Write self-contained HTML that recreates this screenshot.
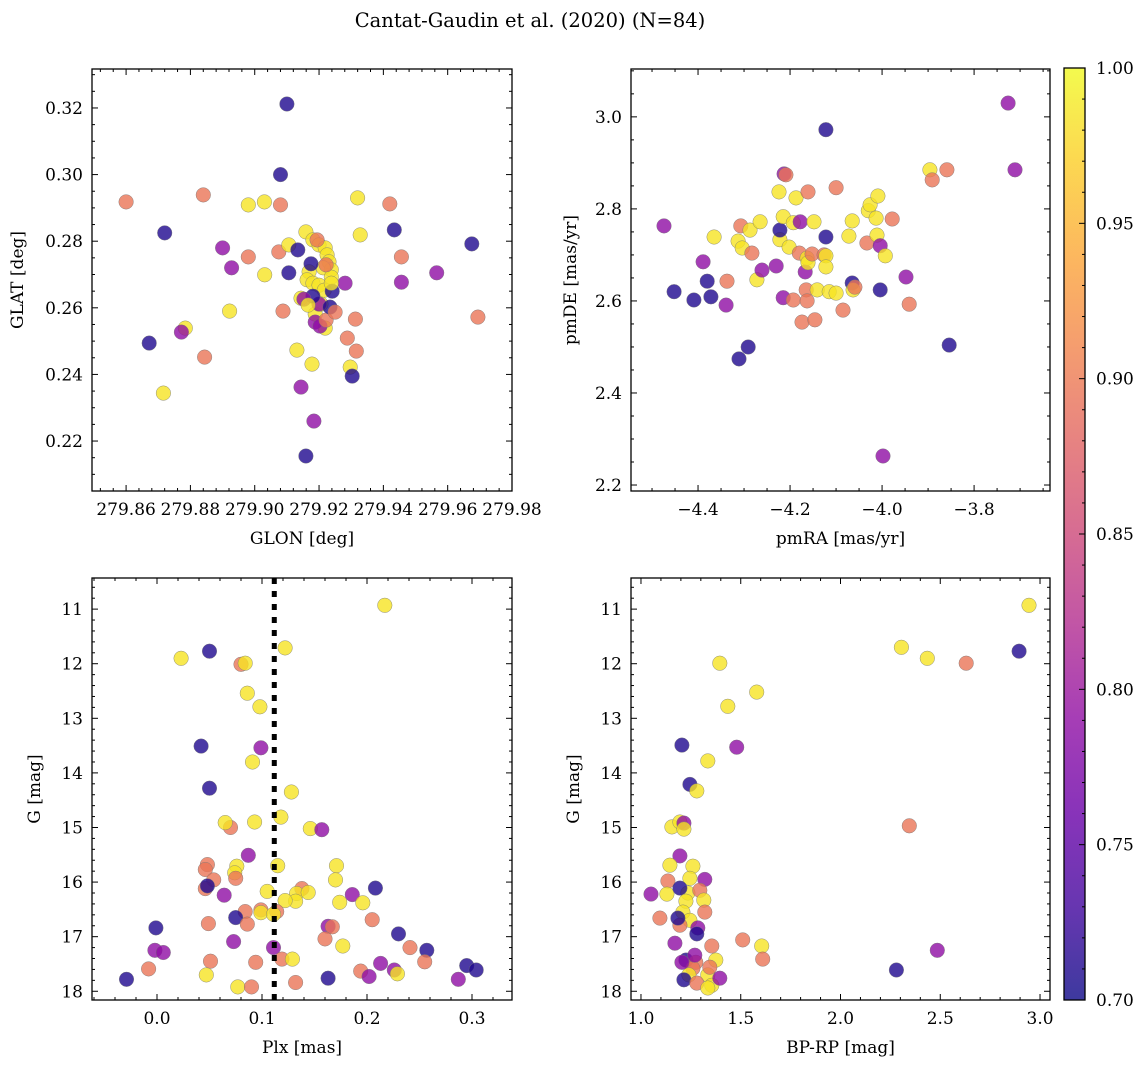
<!DOCTYPE html>
<html><head><meta charset="utf-8">
<style>
html,body{margin:0;padding:0;background:#fff;}
svg{display:block;font-family:"DejaVu Serif","Liberation Serif",serif;}
</style></head>
<body>
<svg id="fig" width="1148" height="1068" viewBox="0 0 1148 1068">
<defs>
<linearGradient id="plasma" x1="0" y1="1" x2="0" y2="0">
<stop offset="0" stop-color="#0d0887"/><stop offset="0.1" stop-color="#41049d"/><stop offset="0.2" stop-color="#6a00a8"/><stop offset="0.3" stop-color="#8f0da4"/><stop offset="0.4" stop-color="#b12a90"/><stop offset="0.5" stop-color="#cc4778"/><stop offset="0.6" stop-color="#e16462"/><stop offset="0.7" stop-color="#f2844b"/><stop offset="0.8" stop-color="#fca636"/><stop offset="0.9" stop-color="#fcce25"/><stop offset="1" stop-color="#f0f921"/>
</linearGradient>
</defs>
<text x="530" y="27" font-size="19.5" text-anchor="middle">Cantat-Gaudin et al. (2020) (N=84)</text>
</svg>
<script>
// ---------- data ----------
const p1_glon=[279.910,279.908,279.860,279.884,279.898,279.903,279.908,279.932,279.942,279.872,279.890,279.898,279.9075,279.9106,279.9134,279.9031,279.8928,279.9106,279.8922,279.9088,279.9328,279.9434,279.9456,279.9566,279.9456,279.9675,279.9694,279.9281,279.9313,279.8784,279.8772,279.8672,279.8844,279.8716,279.9131,279.9144,279.9178,279.9297,279.9288,279.9316,279.9303,279.9184,279.9159,279.9159,279.9181,279.9200,279.9219,279.9225,279.9231,279.9238,279.9213,279.9169,279.9163,279.9181,279.9200,279.9216,279.9144,279.9188,279.9206,279.9238,279.9219,279.9200,279.9188,279.9203,279.9222,279.9241,279.9234,279.9181,279.9175,279.9194,279.9222,279.9153,279.9166,279.925,279.9238];
const p1_glat=[0.3212,0.3000,0.2918,0.2939,0.2909,0.2918,0.2909,0.2930,0.2912,0.2825,0.2780,0.2753,0.2768,0.2789,0.2774,0.2699,0.2720,0.2705,0.2590,0.2590,0.2819,0.2834,0.2753,0.2705,0.2677,0.2792,0.2572,0.2674,0.2566,0.2539,0.2527,0.2494,0.2452,0.2344,0.2473,0.2362,0.2431,0.2422,0.2509,0.2470,0.2395,0.2260,0.2155,0.2828,0.2804,0.2789,0.2780,0.2759,0.2738,0.2714,0.2720,0.2708,0.2684,0.2674,0.2668,0.2653,0.2629,0.2581,0.2611,0.2692,0.2539,0.2611,0.2557,0.2545,0.2563,0.2650,0.2602,0.2635,0.2732,0.2804,0.2729,0.2626,0.2608,0.2587,0.2674];
const p1_prob=[0.71,0.71,0.895,0.895,0.985,0.985,0.895,0.985,0.895,0.71,0.79,0.895,0.895,0.985,0.71,0.985,0.79,0.71,0.985,0.895,0.985,0.71,0.895,0.79,0.79,0.71,0.895,0.79,0.895,0.985,0.79,0.71,0.895,0.985,0.985,0.79,0.985,0.985,0.895,0.895,0.71,0.79,0.71,0.985,0.985,0.985,0.985,0.985,0.985,0.985,0.985,0.985,0.985,0.985,0.985,0.985,0.985,0.985,0.985,0.985,0.985,0.79,0.79,0.79,0.895,0.71,0.71,0.71,0.71,0.895,0.895,0.79,0.985,0.895,0.985];

const p2_pmra=[-4.474,-4.452,-4.409,-4.389,-4.380,-4.372,-4.365,-4.339,-4.337,-4.311,-4.307,-4.313,-4.304,-4.291,-4.287,-4.283,-4.272,-4.265,-4.261,-4.230,-4.224,-4.222,-4.222,-4.215,-4.213,-4.209,-4.215,-4.202,-4.193,-4.193,-4.187,-4.180,-4.178,-4.174,-4.167,-4.165,-4.163,-4.161,-4.163,-4.161,-4.152,-4.146,-4.148,-4.141,-4.126,-4.122,-4.122,-4.122,-4.122,-4.115,-4.100,-4.100,-4.085,-4.072,-4.065,-4.065,-4.063,-4.059,-4.033,-4.030,-4.026,-4.009,-4.013,-4.011,-4.004,-3.998,-4.004,-3.993,-3.978,-3.941,-3.948,-3.896,-3.891,-3.859,-3.854,-3.726,-3.711];
const p2_pmde=[2.763,2.620,2.602,2.685,2.643,2.609,2.739,2.591,2.643,2.474,2.763,2.730,2.715,2.500,2.754,2.704,2.646,2.772,2.667,2.676,2.837,2.733,2.754,2.607,2.876,2.874,2.783,2.717,2.602,2.770,2.824,2.704,2.772,2.554,2.663,2.624,2.600,2.837,2.693,2.683,2.702,2.559,2.772,2.624,2.700,2.698,2.674,2.972,2.739,2.620,2.846,2.617,2.580,2.741,2.639,2.774,2.624,2.630,2.726,2.796,2.809,2.828,2.780,2.743,2.720,2.263,2.624,2.698,2.778,2.593,2.652,2.885,2.863,2.885,2.504,3.030,2.885];
const p2_prob=[0.79,0.71,0.71,0.79,0.71,0.71,0.985,0.79,0.895,0.71,0.895,0.985,0.985,0.71,0.985,0.895,0.985,0.985,0.79,0.79,0.985,0.985,0.71,0.79,0.79,0.895,0.985,0.985,0.895,0.985,0.985,0.895,0.79,0.895,0.79,0.895,0.895,0.895,0.985,0.985,0.895,0.895,0.985,0.985,0.895,0.985,0.985,0.71,0.71,0.985,0.895,0.985,0.895,0.985,0.71,0.985,0.985,0.895,0.895,0.985,0.985,0.985,0.985,0.985,0.79,0.79,0.71,0.985,0.895,0.895,0.79,0.985,0.895,0.895,0.71,0.79,0.79];

const p3_plx=[0.217,0.050,0.023,0.080,0.084,0.122,0.086,0.098,0.042,0.099,0.091,0.050,0.128,0.070,0.065,0.093,0.118,0.146,0.157,0.087,0.048,0.046,0.076,0.074,0.075,0.115,0.171,0.170,0.054,0.046,0.048,0.064,0.105,0.138,0.133,0.144,0.132,0.122,0.208,0.186,0.174,0.196,0.084,0.099,0.099,0.114,0.111,0.075,0.086,0.049,-0.001,0.163,0.167,0.205,0.230,0.073,0.160,0.177,0.241,0.257,-0.002,0.006,0.111,0.051,0.094,0.119,0.129,0.213,0.255,0.295,0.304,-0.008,0.047,0.194,0.226,0.229,0.202,-0.029,0.163,0.287,0.077,0.090,0.132];
const p3_g=[10.93,11.77,11.90,12.01,11.99,11.71,12.54,12.79,13.51,13.54,13.80,14.28,14.35,15.00,14.91,14.90,14.81,15.02,15.04,15.51,15.68,15.77,15.71,15.83,15.93,15.70,15.70,15.96,15.96,16.12,16.07,16.24,16.17,16.12,16.21,16.19,16.35,16.34,16.11,16.23,16.37,16.38,16.54,16.51,16.56,16.54,16.59,16.65,16.77,16.76,16.84,16.81,16.82,16.69,16.95,17.09,17.04,17.17,17.20,17.25,17.25,17.29,17.20,17.45,17.47,17.41,17.41,17.49,17.46,17.53,17.61,17.59,17.70,17.63,17.61,17.68,17.73,17.78,17.76,17.78,17.92,17.92,17.84];
const p3_prob=[0.985,0.71,0.985,0.895,0.985,0.985,0.985,0.985,0.71,0.79,0.985,0.71,0.985,0.895,0.985,0.985,0.985,0.985,0.79,0.79,0.895,0.895,0.985,0.985,0.895,0.985,0.985,0.985,0.895,0.895,0.71,0.79,0.985,0.895,0.985,0.985,0.985,0.985,0.71,0.79,0.985,0.985,0.895,0.895,0.985,0.895,0.985,0.71,0.895,0.895,0.71,0.79,0.895,0.895,0.71,0.79,0.895,0.985,0.895,0.71,0.79,0.79,0.79,0.895,0.895,0.895,0.985,0.79,0.895,0.71,0.71,0.895,0.985,0.895,0.79,0.985,0.79,0.71,0.71,0.79,0.985,0.895,0.895];

const p4_bprp=[2.945,2.895,2.305,2.435,2.630,1.395,1.580,1.435,1.205,1.480,1.335,1.245,1.280,1.155,1.195,1.215,1.215,2.345,1.195,1.145,1.260,1.320,1.245,1.135,1.050,1.130,1.235,1.295,1.315,1.195,1.225,1.210,1.320,1.245,1.195,1.285,1.185,1.280,1.170,1.355,1.510,1.605,1.610,1.375,1.225,1.275,1.260,1.335,1.345,1.240,1.215,1.280,1.355,1.395,1.335,2.280,2.485,1.205,1.270,1.095];
const p4_g=[10.93,11.77,11.70,11.90,11.99,11.99,12.52,12.78,13.49,13.53,13.78,14.21,14.33,14.99,14.90,14.92,15.03,14.97,15.52,15.69,15.71,15.95,15.93,15.98,16.22,16.22,16.20,16.15,16.33,16.11,16.35,16.55,16.55,16.70,16.79,16.84,16.66,16.95,17.12,17.17,17.06,17.17,17.41,17.43,17.43,17.47,17.58,17.70,17.56,17.70,17.79,17.85,17.89,17.76,17.94,17.61,17.25,17.47,17.34,16.66];
const p4_prob=[0.985,0.71,0.985,0.985,0.895,0.985,0.985,0.985,0.71,0.79,0.985,0.71,0.985,0.985,0.985,0.79,0.985,0.895,0.79,0.985,0.985,0.79,0.985,0.895,0.79,0.985,0.985,0.895,0.985,0.71,0.985,0.985,0.895,0.985,0.895,0.79,0.71,0.71,0.79,0.895,0.895,0.985,0.895,0.985,0.71,0.895,0.895,0.985,0.895,0.985,0.71,0.895,0.985,0.79,0.985,0.71,0.79,0.79,0.79,0.895];

const p1_xticks=[279.86,279.88,279.90,279.92,279.94,279.96,279.98];
const p1_yticks=[0.22,0.24,0.26,0.28,0.30,0.32];
const p2_xticks=[-4.4,-4.2,-4.0,-3.8];
const p2_yticks=[2.2,2.4,2.6,2.8,3.0];
const p3_xticks=[0.0,0.1,0.2,0.3];
const g_ticks=[11,12,13,14,15,16,17,18];
const p4_xticks=[1.0,1.5,2.0,2.5,3.0];
const cb_ticks=[0.70,0.75,0.80,0.85,0.90,0.95,1.00];
const plx_cut=0.1117;

// ---------- helpers ----------
const NS="http://www.w3.org/2000/svg";
const svg=document.getElementById('fig');
function mk(tag,attrs,parent){const e=document.createElementNS(NS,tag);for(const k in attrs)e.setAttribute(k,attrs[k]);(parent||svg).appendChild(e);return e;}
const stops=[[13,8,135],[65,4,157],[106,0,168],[143,13,164],[177,42,144],[204,71,120],[225,100,98],[242,132,75],[252,166,54],[252,206,37],[240,249,33]];
function plasma(v){let t=(v-0.7)/0.3;t=Math.max(0,Math.min(1,t))*10;const i=Math.min(9,Math.floor(t)),f=t-i;const a=stops[i],b=stops[i+1];return 'rgb('+a.map((c,k)=>Math.round(c+(b[k]-c)*f)).join(',')+')';}
function fmt(v,d){return (v<0?'\u2212':'')+Math.abs(v).toFixed(d);}
const FS=17;

function panel(o){
  const g=mk('g',{});
  
  
  const sx=v=>o.x0+(v-o.xd[0])/(o.xd[1]-o.xd[0])*(o.x1-o.x0);
  const sy=v=>o.y1-(v-o.yd[0])/(o.yd[1]-o.yd[0])*(o.y1-o.y0);
  const pg=mk('g',{},g);
  
  
  for(let i=0;i<o.xs.length;i++){
    const c=mk('circle',{cx:sx(o.xs[i]).toFixed(1),cy:sy(o.ys[i]).toFixed(1),r:7.3,fill:plasma(o.cs[i]),'fill-opacity':0.8,stroke:'#777','stroke-width':0.5,'stroke-opacity':0.8},pg);
    
    
  }
  if(o.vline!==undefined){
    const l=mk('line',{x1:sx(o.vline),x2:sx(o.vline),y1:o.y0,y2:o.y1,stroke:'#000','stroke-width':5,'stroke-dasharray':'6,7'},g);
    
    
  }
  const fr=mk('rect',{x:o.x0,y:o.y0,width:o.x1-o.x0,height:o.y1-o.y0,fill:'none',stroke:'#000','stroke-width':1.3},g);
  
  
  const tg=mk('g',{stroke:'#000','stroke-width':1},g);
  const xmin=Math.ceil(o.xd[0]/o.xm-1e-6),xmax=Math.floor(o.xd[1]/o.xm+1e-6);
  for(let k=xmin;k<=xmax;k++){const v=k*o.xm,x=sx(v);const maj=o.xt.some(t=>Math.abs(t-v)<o.xm/3);const L=maj?6:3;
    mk('line',{x1:x,x2:x,y1:o.y1,y2:o.y1-L},tg);mk('line',{x1:x,x2:x,y1:o.y0,y2:o.y0+L},tg);}
  const ymin=Math.ceil(o.yd[0]/o.ym-1e-6),ymax=Math.floor(o.yd[1]/o.ym+1e-6);
  for(let k=ymin;k<=ymax;k++){const v=k*o.ym,y=sy(v);const maj=o.yt.some(t=>Math.abs(t-v)<o.ym/3);const L=maj?6:3;
    mk('line',{x1:o.x0,x2:o.x0+L,y1:y,y2:y},tg);mk('line',{x1:o.x1,x2:o.x1-L,y1:y,y2:y},tg);}
  o.xt.forEach(v=>{const t=mk('text',{x:sx(v),y:o.y1+24,'font-size':FS,'text-anchor':'middle'},g);t.textContent=fmt(v,o.xdec);
    });
  o.yt.forEach(v=>{const t=mk('text',{x:o.x0-9,y:sy(v)+6,'font-size':FS,'text-anchor':'end'},g);t.textContent=fmt(v,o.ydec);
    });
  const xl=mk('text',{x:(o.x0+o.x1)/2,y:o.y1+53,'font-size':FS,'text-anchor':'middle'},g);xl.textContent=o.xlab;
  
  const yx=o.ylx,yy=(o.y0+o.y1)/2;
  const yl=mk('text',{x:yx,y:yy,'font-size':FS,'text-anchor':'middle',transform:'rotate(-90 '+yx+' '+yy+')'},g);yl.textContent=o.ylab;
  
}

panel({name:'glon-glat-panel',x0:92,x1:512,y0:69,y1:491,xd:[279.8494,279.98],yd:[0.205,0.3317],xs:p1_glon,ys:p1_glat,cs:p1_prob,xt:p1_xticks,yt:p1_yticks,xm:0.004,ym:0.005,xdec:2,ydec:2,xlab:'GLON [deg]',ylab:'GLAT [deg]',ylx:23});
panel({name:'proper-motion-panel',x0:631,x1:1050,y0:69,y1:491,xd:[-4.5457,-3.635],yd:[2.187,3.104],xs:p2_pmra,ys:p2_pmde,cs:p2_prob,xt:p2_xticks,yt:p2_yticks,xm:0.05,ym:0.05,xdec:1,ydec:1,xlab:'pmRA [mas/yr]',ylab:'pmDE [mas/yr]',ylx:576});
panel({name:'plx-g-panel',x0:92,x1:512,y0:578,y1:1000,xd:[-0.0619,0.3381],yd:[-18.16,-10.43],xs:p3_plx,ys:p3_g.map(v=>-v),cs:p3_prob,xt:p3_xticks,yt:g_ticks.map(v=>-v),xm:0.02,ym:0.2,xdec:1,ydec:0,xlab:'Plx [mas]',ylab:'G [mag]',ylx:40,vline:plx_cut});
panel({name:'cmd-panel',x0:631,x1:1050,y0:578,y1:1000,xd:[0.95,3.05],yd:[-18.16,-10.43],xs:p4_bprp,ys:p4_g.map(v=>-v),cs:p4_prob,xt:p4_xticks,yt:g_ticks.map(v=>-v),xm:0.1,ym:0.2,xdec:1,ydec:0,xlab:'BP-RP [mag]',ylab:'G [mag]',ylx:579});
document.querySelectorAll('text').forEach(t=>{if(/^\u2212\d+$/.test(t.textContent))t.textContent=t.textContent.slice(1);});

// colorbar
const cb=mk('g',{});


const cx0=1064,cx1=1085,cy0=68,cy1=1000;
mk('rect',{x:cx0,y:cy0,width:cx1-cx0,height:cy1-cy0,fill:'url(#plasma)','fill-opacity':0.8},cb);
mk('rect',{x:cx0,y:cy0,width:cx1-cx0,height:cy1-cy0,fill:'none',stroke:'#000','stroke-width':1.3},cb);
const cby=v=>cy1-(v-0.7)/0.3*(cy1-cy0);
for(let k=70;k<=100;k++){const y=cby(k/100);const maj=k%5===0;mk('line',{x1:cx1,x2:cx1-(maj?6:3),y1:y,y2:y,stroke:'#000','stroke-width':1},cb);}
cb_ticks.forEach(v=>{const t=mk('text',{x:1096,y:cby(v)+6,'font-size':FS},cb);t.textContent=v.toFixed(2);
  });
</script>
</body></html>
